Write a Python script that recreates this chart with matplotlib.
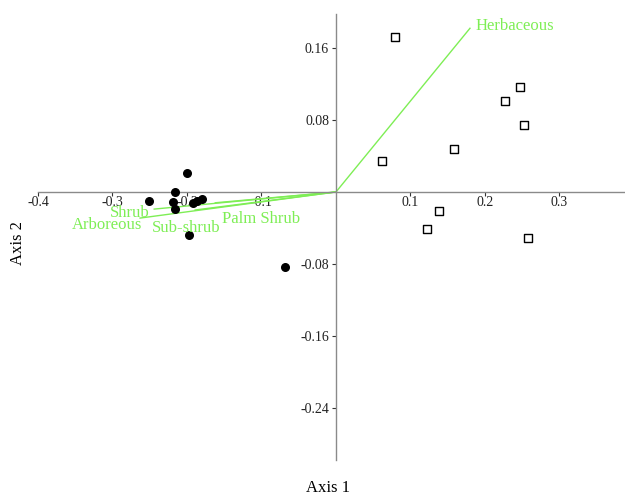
import matplotlib
matplotlib.use("Agg")
import matplotlib.pyplot as plt

plt.rcParams['font.family'] = ['Liberation Serif', 'DejaVu Serif']

# Site scores (group A: filled circles)
circ_x = [-0.1996, -0.2157, -0.2506, -0.2184, -0.2157, -0.1915, -0.1862, -0.1799, -0.1969, -0.0689]
circ_y = [0.0214, -0.0003, -0.0103, -0.0111, -0.0186, -0.0126, -0.0097, -0.0074, -0.0474, -0.0830]
# Site scores (group B: open squares)
sq_x = [0.0792, 0.2466, 0.2264, 0.2523, 0.1580, 0.0617, 0.1387, 0.1217, 0.2573]
sq_y = [0.1726, 0.1170, 0.1015, 0.0748, 0.0478, 0.0344, -0.0207, -0.0407, -0.0507]
# Variable vectors
vec_names = ['Herbaceous', 'Shrub', 'Arboreous', 'Sub-shrub', 'Palm Shrub']
vec_x = [0.1799, -0.2440, -0.2630, -0.1890, -0.1620]
vec_y = [0.1819, -0.0190, -0.0290, -0.0200, -0.0120]
xticks = [-0.4, -0.3, -0.2, -0.1, 0.1, 0.2, 0.3]
yticks = [0.16, 0.08, -0.08, -0.16, -0.24]

green = '#7eee55'
fig = plt.figure(figsize=(6.25, 4.97), dpi=100)
ax = fig.add_axes([0, 0, 1, 1])
ax.set_xlim(-0.451, 0.388)
ax.set_ylim(-0.3389, 0.2133)

for sp in ['top', 'right']:
    ax.spines[sp].set_visible(False)
ax.spines['bottom'].set_position(('data', 0))
ax.spines['left'].set_position(('data', 0))
ax.spines['bottom'].set_bounds(-0.4, 0.388)
ax.spines['left'].set_bounds(-0.298, 0.198)
for sp in ['bottom', 'left']:
    ax.spines[sp].set_color('#8a8a8a')
    ax.spines[sp].set_linewidth(1.0)

ax.set_xticks(xticks)
ax.set_xticklabels([f'{t:g}' for t in xticks])
ax.set_yticks(yticks)
ax.set_yticklabels([f'{t:g}' for t in yticks])
ax.tick_params(axis='x', direction='out', length=3, pad=0, labelsize=10, colors='#333333', labelcolor='#222222')
ax.tick_params(axis='y', direction='out', length=3, pad=2, labelsize=10, colors='#333333', labelcolor='#222222')

# vectors
label_off = {'Herbaceous': (4, 1.5, 'left'), 'Shrub': (-3, -3, 'right'),
             'Arboreous': (1.5, -5, 'right'), 'Sub-shrub': (-31.5, -13, 'left'),
             'Palm Shrub': (5, -12, 'left')}
for name, vx, vy in zip(vec_names, vec_x, vec_y):
    ax.plot([0, vx], [0, vy], color=green, lw=1.0, zorder=2)
    dx, dy, ha = label_off[name]
    ax.annotate(name, (vx, vy), xytext=(dx, dy), textcoords='offset points',
                ha=ha, va='center', color=green, fontsize=12, zorder=4)

ax.scatter(circ_x, circ_y, s=30, color='black', zorder=3)
ax.scatter(sq_x, sq_y, s=36, marker='s', facecolor='white', edgecolor='black', linewidths=1.0, zorder=3)

fig.text(328 / 625, 1 - 488 / 497, 'Axis 1', ha='center', va='center', fontsize=12)
fig.text(18 / 625, 1 - 243 / 497, 'Axis 2', ha='center', va='center', fontsize=12, rotation=90)

fig.savefig('out.png', dpi=100)
